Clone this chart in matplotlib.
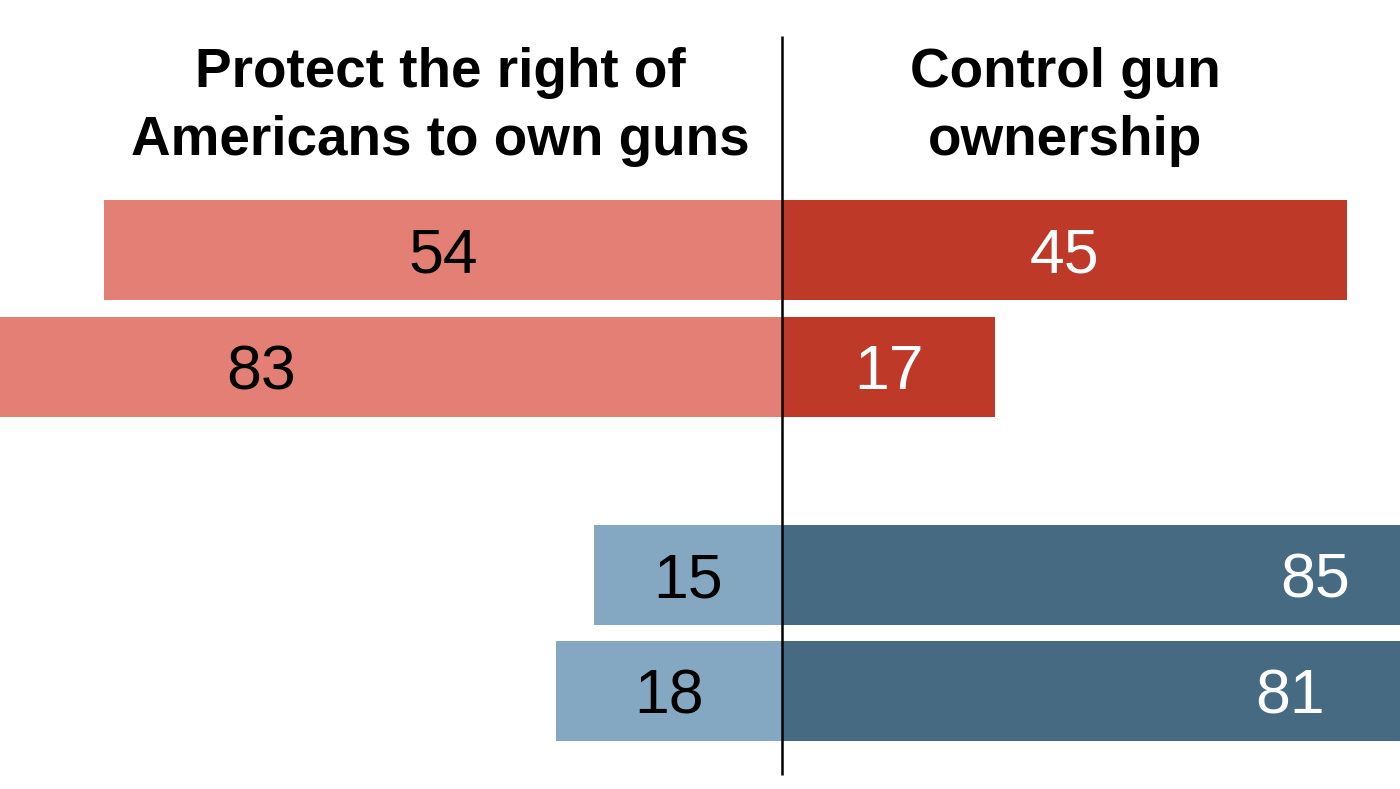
import matplotlib
matplotlib.use("Agg")
import matplotlib.pyplot as plt

groups = ["Rep/lean Rep row 1", "Rep/lean Rep row 2", "Dem/lean Dem row 1", "Dem/lean Dem row 2"]
protect = [54, 83, 15, 18]
control = [45, 17, 85, 81]
headers = ["Protect the right of\nAmericans to own guns", "Control gun\nownership"]

W, H = 1400, 789
fig = plt.figure(figsize=(W / 100, H / 100), dpi=100)
ax = fig.add_axes([0, 0, 1, 1])
ax.set_xlim(-62.3, 49.25)
ax.set_ylim(H, 0)
ax.axis("off")

ypos = [250, 366.5, 575, 691]
bh = 100
left_cols = ["#E37F74", "#E37F74", "#84A8C1", "#84A8C1"]
right_cols = ["#BF3929", "#BF3929", "#476A83", "#476A83"]

ax.barh(ypos, [-v for v in protect], height=bh, color=left_cols, linewidth=0)
ax.barh(ypos, control, height=bh, color=right_cols, linewidth=0)

for i, y in enumerate(ypos):
    ax.text(-protect[i] / 2, y + 6, str(protect[i]), ha="center", va="center",
            fontsize=45, color="black", family="Liberation Sans")
    ax.text(control[i] / 2, y + 6, str(control[i]), ha="center", va="center",
            fontsize=45, color="white", family="Liberation Sans")

ax.plot([0, 0], [36, 775], color="black", linewidth=1.8, solid_capstyle="butt")

for x, txt in zip([-27.2, 22.6], headers):
    ax.text(x, 107, txt, ha="center", va="center", fontsize=39.5,
            fontweight="bold", family="Liberation Sans", linespacing=1.42)

fig.savefig("out.png", dpi=100)
